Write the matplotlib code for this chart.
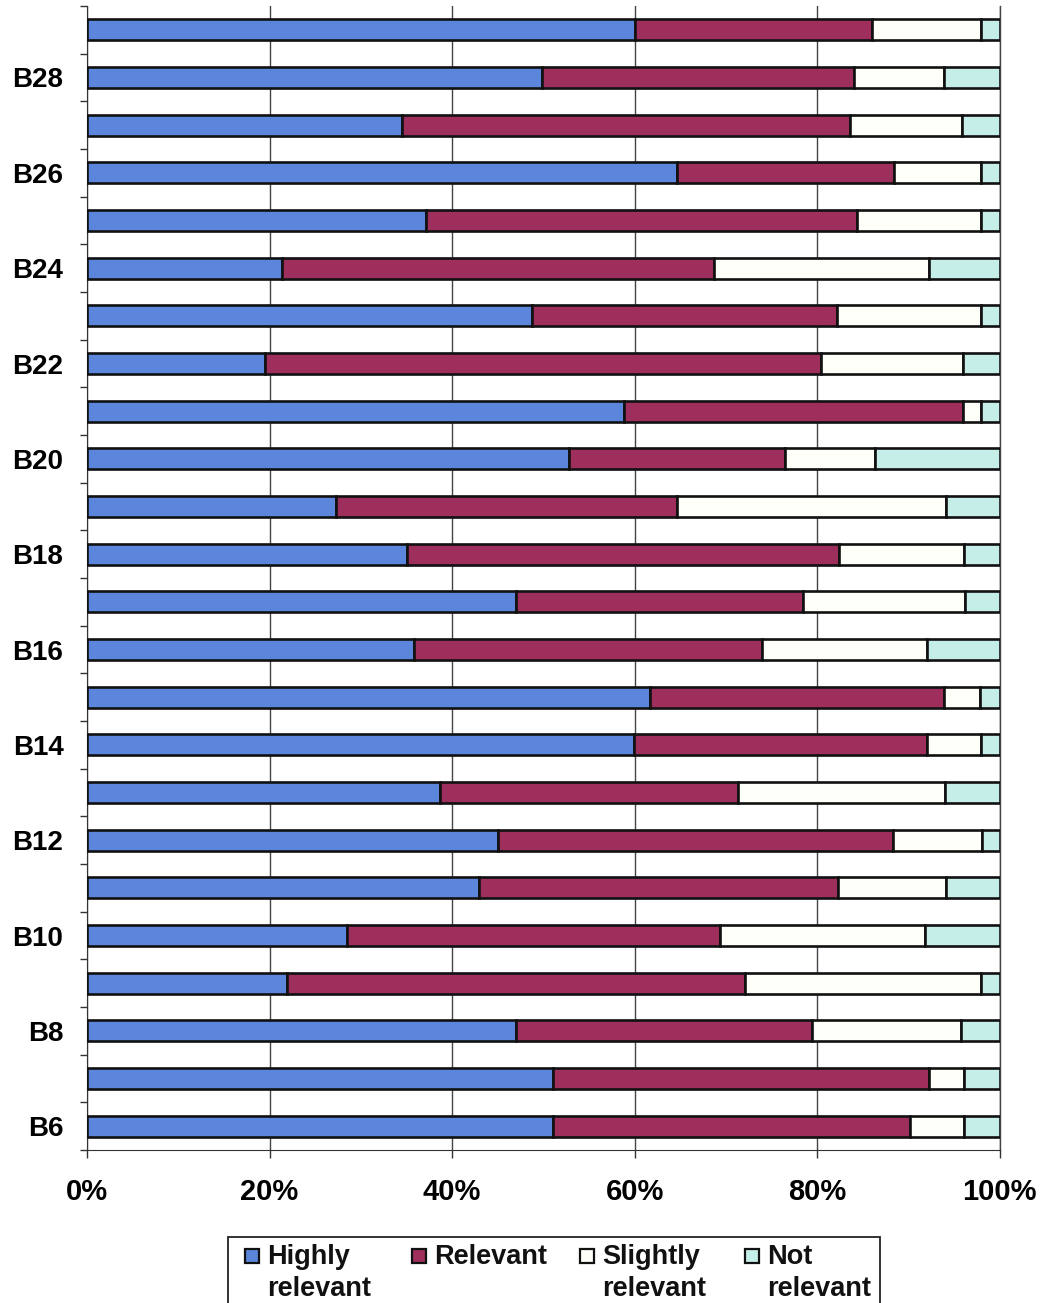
import numpy as np
import matplotlib
matplotlib.use('Agg')
import matplotlib.pyplot as plt
from matplotlib import ticker
from matplotlib.patches import Rectangle

# items from bottom (B6) to top (B29)
ITEMS = ['B6', 'B7', 'B8', 'B9', 'B10', 'B11', 'B12', 'B13', 'B14', 'B15', 'B16', 'B17',
         'B18', 'B19', 'B20', 'B21', 'B22', 'B23', 'B24', 'B25', 'B26', 'B27', 'B28', 'B29']

HIGHLY = [51.0, 51.0, 47.0, 21.9, 28.5, 43.0, 45.0, 38.7, 59.9, 61.7, 35.8, 47.0,
          35.1, 27.3, 52.8, 58.8, 19.5, 48.8, 21.4, 37.1, 64.6, 34.5, 49.8, 60.0]
RELEVANT = [39.2, 41.2, 32.4, 50.2, 40.8, 39.3, 43.3, 32.6, 32.1, 32.2, 38.1, 31.4,
            47.3, 37.3, 23.7, 37.2, 60.9, 33.4, 47.3, 47.3, 23.8, 49.1, 34.2, 26.0]
SLIGHTLY = [5.9, 3.9, 16.4, 25.9, 22.5, 11.8, 9.8, 22.7, 5.9, 3.9, 18.1, 17.8,
            13.7, 29.5, 9.8, 2.0, 15.6, 15.7, 23.5, 13.6, 9.6, 12.3, 9.9, 12.0]
NOT_REL = [3.9, 3.9, 4.2, 2.0, 8.2, 5.9, 1.9, 6.0, 2.1, 2.2, 8.0, 3.8,
           3.9, 5.9, 13.7, 2.0, 4.0, 2.1, 7.8, 2.0, 2.0, 4.1, 6.1, 2.0]

SERIES = [
    ("Highly\nrelevant", HIGHLY, '#5c86dc'),
    ("Relevant", RELEVANT, '#9e2f5c'),
    ("Slightly\nrelevant", SLIGHTLY, '#fffffa'),
    ("Not\nrelevant", NOT_REL, '#c6eee8'),
]

plt.rcParams['font.family'] = ['Liberation Sans', 'DejaVu Sans']
plt.rcParams['font.weight'] = 'bold'

W, H = 1049, 1303
fig = plt.figure(figsize=(W / 100, H / 100), dpi=100)
ax = fig.add_axes([0.083, 0.1174, 0.87, 0.8780])

y = np.arange(len(ITEMS))
left = np.zeros(len(ITEMS))
for label, vals, color in SERIES:
    vals = np.array(vals)
    ax.barh(y, vals, left=left, height=0.44, color=color, edgecolor='#111111',
            linewidth=1.9, zorder=3)
    left += vals

ax.set_xlim(0, 100)
ax.set_ylim(-0.5, len(ITEMS) - 0.5)

# vertical grid
ax.set_xticks([0, 20, 40, 60, 80, 100])
ax.xaxis.set_major_formatter(ticker.FuncFormatter(lambda v, p: "{:d}%".format(int(v))))
ax.grid(True, axis='x', color='#444444', linewidth=1.0, zorder=0)

# y labels on every other item
ax.set_yticks(y[::2])
ax.set_yticklabels(ITEMS[::2])
ax.set_yticks(np.arange(-0.5, len(ITEMS), 1.0), minor=True)

ax.tick_params(axis='y', which='major', length=0, pad=17, labelsize=20)
ax.tick_params(axis='y', which='minor', length=5, width=1, color='#333333', direction='out')
ax.tick_params(axis='x', which='major', length=6, width=1, color='#333333', pad=14, labelsize=21)

ax.spines['top'].set_visible(False)
ax.spines['right'].set_color('#444444')
ax.spines['right'].set_linewidth(1.0)
ax.spines['left'].set_color('#333333')
ax.spines['bottom'].set_color('#333333')

# legend box, drawn by hand so the swatch sits beside the first text line
def px(x, yy):
    return x / W, 1 - yy / H

fig.patches.append(Rectangle(px(228, 1310), 652 / W, 73 / H, transform=fig.transFigure,
                             facecolor='white', edgecolor='#222222', linewidth=1.3))
LEG_X = [245, 412, 580, 745]
for (label, vals, color), lx in zip(SERIES, LEG_X):
    fig.patches.append(Rectangle(px(lx, 1263), 14 / W, 14 / H, transform=fig.transFigure,
                                 facecolor=color, edgecolor='#111111', linewidth=1.6))
    tx, ty = px(lx + 22, 1244)
    fig.text(tx, ty, label, ha='left', va='top', fontsize=19.5, fontweight='bold',
             linespacing=1.3, color='#111111')

fig.savefig('out.png', dpi=100)
